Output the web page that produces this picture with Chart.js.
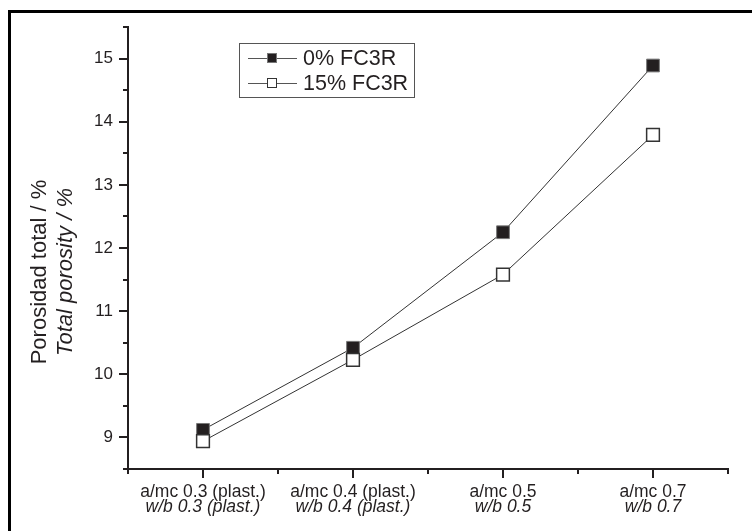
<!DOCTYPE html>
<html>
<head>
<meta charset="utf-8">
<script src="https://cdn.jsdelivr.net/npm/chart.js@4"></script>
<style>
    body { margin: 0; background: #fff; }
    canvas { display: block; }
</style>
</head>
<body>
<canvas id="porosityChart" width="752" height="531"></canvas>
<script>
// Chart data
const categoriesEs = ['a/mc 0.3 (plast.)', 'a/mc 0.4 (plast.)', 'a/mc 0.5', 'a/mc 0.7'];
const categoriesEn = ['w/b 0.3 (plast.)', 'w/b 0.4 (plast.)', 'w/b 0.5', 'w/b 0.7'];
const porosity0 = [9.12, 10.42, 12.25, 14.89];
const porosity15 = [8.94, 10.23, 11.58, 13.79];
const seriesNames = ['0% FC3R', '15% FC3R'];
const yMin = 8.5;
const yMax = 15.5;

const FONT = '"Liberation Sans", Arial, sans-serif';
const INK = '#231f20';

// Draws frame, tick marks, x labels, y title and the legend box
const decorPlugin = {
    id: 'decor',
    beforeDraw(chart) {
        const ctx = chart.ctx;
        ctx.save();
        ctx.fillStyle = '#fff';
        ctx.fillRect(0, 0, chart.width, chart.height);
        // outer frame (left and top edges visible)
        ctx.strokeStyle = '#000';
        ctx.lineWidth = 3;
        ctx.beginPath();
        ctx.moveTo(9.5, chart.height + 5);
        ctx.lineTo(9.5, 11.5);
        ctx.lineTo(chart.width + 5, 11.5);
        ctx.stroke();
        ctx.restore();
    },
    afterDraw(chart) {
        const ctx = chart.ctx;
        const area = chart.chartArea;
        const xs = chart.scales.x;
        const ys = chart.scales.y;
        ctx.save();
        ctx.strokeStyle = INK;
        ctx.lineWidth = 2;

        // y ticks: long at integers, short at halves
        ys.ticks.forEach(t => {
            const py = Math.round(ys.getPixelForValue(t.value));
            const len = Number.isInteger(t.value) ? 9 : 5;
            ctx.beginPath();
            ctx.moveTo(area.left, py);
            ctx.lineTo(area.left - len, py);
            ctx.stroke();
        });

        // x ticks: long at categories, short between them
        const half = (xs.getPixelForValue(1) - xs.getPixelForValue(0)) / 2;
        categoriesEs.forEach((c, i) => {
            const px = Math.round(xs.getPixelForValue(i));
            ctx.beginPath();
            ctx.moveTo(px, area.bottom);
            ctx.lineTo(px, area.bottom + 9);
            ctx.stroke();
            [px - half, px + half].forEach(mx => {
                ctx.beginPath();
                ctx.moveTo(Math.round(mx), area.bottom);
                ctx.lineTo(Math.round(mx), area.bottom + 5);
                ctx.stroke();
            });
        });

        // x labels, two lines, second one italic
        ctx.fillStyle = INK;
        ctx.textAlign = 'center';
        ctx.textBaseline = 'alphabetic';
        categoriesEs.forEach((c, i) => {
            const px = xs.getPixelForValue(i);
            ctx.font = '17.5px ' + FONT;
            ctx.fillText(c, px, area.bottom + 28);
            ctx.font = 'italic 17.5px ' + FONT;
            ctx.fillText(categoriesEn[i], px, area.bottom + 43);
        });

        // y title, rotated
        ctx.save();
        ctx.translate(0, 272);
        ctx.rotate(-Math.PI / 2);
        ctx.font = '22px ' + FONT;
        ctx.fillText('Porosidad total / %', 0, 46);
        ctx.font = 'italic 22px ' + FONT;
        ctx.fillText('Total porosity / %', 0, 72);
        ctx.restore();

        // legend
        ctx.strokeStyle = '#555';
        ctx.lineWidth = 1;
        ctx.strokeRect(239.5, 43.5, 175, 54);
        const rows = [58, 83];
        rows.forEach((ry, k) => {
            ctx.strokeStyle = '#555';
            ctx.lineWidth = 1;
            ctx.beginPath();
            ctx.moveTo(248, ry + 0.5);
            ctx.lineTo(297, ry + 0.5);
            ctx.stroke();
            ctx.fillStyle = k === 0 ? INK : '#fff';
            ctx.fillRect(267, ry - 5, 10, 10);
            ctx.strokeStyle = k === 0 ? '#777' : '#333';
            ctx.strokeRect(267.5, ry - 4.5, 9, 9);
            ctx.fillStyle = INK;
            ctx.font = '21.5px ' + FONT;
            ctx.textAlign = 'left';
            ctx.textBaseline = 'middle';
            ctx.fillText(seriesNames[k], 303, ry + 1);
        });
        ctx.restore();
    }
};

const ctx = document.getElementById('porosityChart').getContext('2d');
new Chart(ctx, {
    type: 'line',
    data: {
        labels: categoriesEs,
        datasets: [{
            label: seriesNames[0],
            data: porosity0,
            borderColor: '#333',
            borderWidth: 1,
            pointStyle: 'rect',
            pointRadius: 9,
            pointBackgroundColor: INK,
            pointBorderColor: '#777',
            pointBorderWidth: 1,
            tension: 0,
            order: 2
        }, {
            label: seriesNames[1],
            data: porosity15,
            borderColor: '#333',
            borderWidth: 1,
            pointStyle: 'rect',
            pointRadius: 9,
            pointBackgroundColor: '#fff',
            pointBorderColor: '#333',
            pointBorderWidth: 1.5,
            tension: 0,
            order: 1
        }]
    },
    options: {
        responsive: false,
        animation: false,
        devicePixelRatio: 1,
        layout: {
            padding: { top: 27, right: 24, left: 0, bottom: 0 }
        },
        plugins: {
            legend: { display: false },
            tooltip: { enabled: false }
        },
        scales: {
            x: {
                offset: true,
                grid: { display: false, drawTicks: false },
                border: { display: true, color: INK, width: 2 },
                ticks: { display: false },
                afterFit: scale => { scale.height = 62; }
            },
            y: {
                min: yMin,
                max: yMax,
                grid: { display: false, drawTicks: false },
                border: { display: true, color: INK, width: 2 },
                ticks: {
                    stepSize: 0.5,
                    padding: 15,
                    color: INK,
                    font: { family: FONT, size: 17 },
                    callback: v => Number.isInteger(v) ? v : ''
                },
                afterFit: scale => { scale.width = 128; }
            }
        }
    },
    plugins: [decorPlugin]
});
</script>
</body>
</html>
